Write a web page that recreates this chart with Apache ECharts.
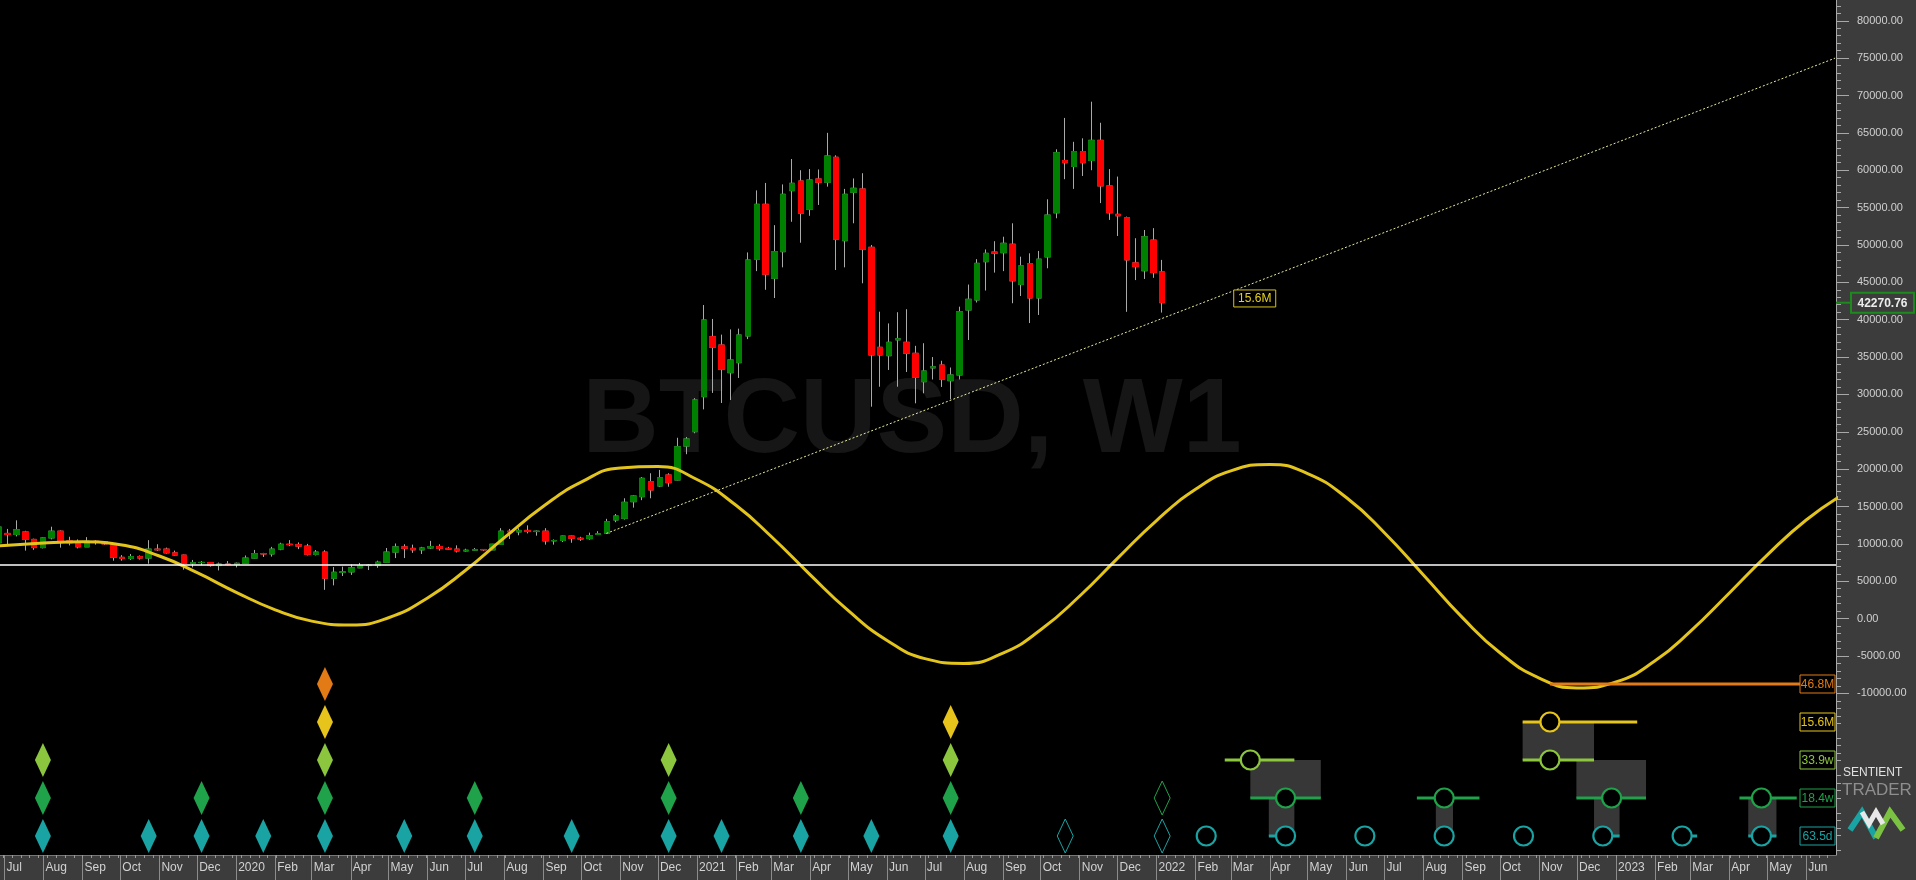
<!DOCTYPE html>
<html><head><meta charset="utf-8">
<script src="https://cdn.jsdelivr.net/npm/echarts/dist/echarts.min.js"></script>
<style>html,body{margin:0;padding:0;background:#3c3c3c;overflow:hidden}#c{width:1916px;height:880px}</style>
</head><body><div id="c"></div>
<script>
// ---------------- DATA ----------------
const firstWeek = '2019-06-23';           // week start of first candle (weekly bars)
const open = [
 10150,11400,11250,11600,10600,9500,10800,11700,10400,10150,
 9600,10350,10300,10000,8200,8050,8300,8100,9300,9300,
 8800,8500,7400,7500,7500,7100,7300,7250,7400,8100,
 8700,8650,9300,9950,9900,9700,8600,8900,5400,6200,
 6250,6800,7100,7100,7550,8900,9600,9400,9200,9450,
 9650,9400,9300,9050,9150,9250,9200,9950,11700,11600,
 11800,11650,11700,10400,10450,11050,10750,10700,11250,11415,
 13195,13422,15644,16313,18320,17744,19217,18547,23097,25011,
 29695,37725,36614,32907,34245,37817,48082,55442,45539,49100,
 57262,58560,54772,58828,58386,61732,50571,57048,57490,49688,
 36306,35182,37300,36975,35503,31702,33550,33937,31836,32599,
 41298,42635,47757,49050,48965,50100,44700,47500,42900,48400,
 54300,61300,60500,62500,61300,64000,57900,54100,53650,47600,
 46550,50650,46400];
const high = [
 13850,12000,13150,11750,10700,10900,12300,11800,10950,10600,
 10900,10500,10350,10050,8500,8650,8450,10500,9950,9500,
 9100,8550,7850,7700,7550,7500,7700,7500,8450,9190,
 8800,9600,10150,10500,10200,10000,9180,9150,6900,6950,
 7250,7450,7300,7750,9450,10050,9950,9900,9600,10400,
 9950,9600,9800,9350,9450,9300,10000,12100,12000,12100,
 12480,11800,12100,10600,11100,11100,10950,11500,11700,13350,
 14000,16100,16500,18950,19450,19900,19450,24200,24300,29500,
 41966,40100,38000,38700,38800,49000,57300,58300,52650,58100,
 61500,60000,60150,60100,65000,62000,57500,58900,59600,50000,
 41070,39500,41000,41400,36500,36850,35000,34500,33600,41740,
 44700,48100,49400,50500,51100,52900,48430,48880,49200,56110,
 62800,67000,63800,64270,69170,66350,60150,59150,53800,50900,
 52000,52250,48000];
const low = [
 10050,9700,11000,9100,9200,9400,10600,9500,9800,9400,
 9600,9900,9850,7750,7750,7850,7900,7350,9050,8700,
 8400,6550,6850,7150,6950,6450,7150,6850,7350,8050,
 8250,8300,9150,9700,9300,8450,8450,3850,4450,5700,
 5850,6750,6500,6800,7550,8100,8100,8800,8650,9300,
 9100,9200,8850,8950,9050,9050,9150,9900,10650,11150,
 11400,11100,9900,9900,10250,10150,10400,10550,11200,11400,
 12900,13250,14850,15850,16100,17600,17650,18500,22000,24800,
 28000,30200,28850,29250,32200,37400,46500,44000,42900,47000,
 53100,50300,53900,55350,57800,46650,47000,52900,44870,28356,
 31030,33270,31030,33000,28811,30150,32000,31000,29347,32000,
 37280,42300,43900,46300,46500,42200,43170,39550,40630,46880,
 53570,58800,57500,59230,60000,55600,53350,51200,41050,45300,
 45450,45600,40950];
const close = [
 12250,11250,11900,10600,9500,10800,11700,10400,10150,9600,
 10350,10300,10000,8200,8050,8300,8100,9300,9200,8800,
 8500,7400,7500,7520,7100,7300,7250,7400,8100,8700,
 8650,9300,9950,9900,9700,8600,8900,5400,6200,6250,
 6800,7100,7150,7550,8900,9600,9400,9200,9450,9650,
 9400,9300,9050,9150,9250,9200,9950,11700,11600,11800,
 11650,11700,10400,10450,11050,10750,10650,11100,11350,12970,
 13730,15563,16407,18775,17210,18855,18186,23004,24034,29253,
 39959,36306,33363,34606,37952,47988,55442,46074,49100,56780,
 58252,54237,58694,58386,61906,50758,56780,57583,49420,35275,
 35275,36975,37450,35503,32291,33134,33700,32023,32599,41070,
 42730,47542,48880,48900,50222,45200,47200,42900,48100,54000,
 62350,61000,62500,61000,64000,57900,54300,53900,48000,47100,
 51100,46300,42270.76];

// cycle composite wave (read at month starts)
const waveDates = ['2019-06-01','2019-07-01','2019-08-01','2019-09-01','2019-10-01','2019-11-01','2019-12-01',
 '2020-01-01','2020-02-01','2020-03-01','2020-04-01','2020-05-01','2020-06-01','2020-07-01','2020-08-01','2020-09-01','2020-10-01','2020-11-01','2020-12-01',
 '2021-01-01','2021-02-01','2021-03-01','2021-04-01','2021-05-01','2021-06-01','2021-07-01','2021-08-01','2021-09-01','2021-10-01','2021-11-01','2021-12-01',
 '2022-01-01','2022-02-01','2022-03-01','2022-04-01','2022-05-01','2022-06-01','2022-07-01','2022-08-01','2022-09-01','2022-10-01','2022-11-01','2022-12-01',
 '2023-01-01','2023-02-01','2023-03-01','2023-04-01','2023-05-01','2023-06-01','2023-07-01'];
const waveValues = [9448,9782,10117,10277,9889,8377,6142,
 3519,1178,-335,-856,120,2757,6437,10826,15028,18253,20167,20341,
 18614,15162,10987,5861,1097,-2917,-5353,-5995,-4617,-1499,3024,8056,
 13128,17303,19765,20635,19417,16165,11495,5835,134,-4603,-7962,-9274,
 -8471,-5647,-1713,3427,8500,13200,16700];

const baseLevel = 7170;                        // white horizontal line
const trendStart = ['2020-10-21', 11400];      // dotted trend line
const trendEnd   = ['2023-06-24', 75000];
const trendLabel = ['2022-03-20', 42840, '15.6M'];

const priceTicks = [-10000,-5000,0,5000,10000,15000,20000,25000,30000,35000,40000,45000,50000,55000,60000,65000,70000,75000,80000];
const monthNames = ['Jan','Feb','Mar','Apr','May','Jun','Jul','Aug','Sep','Oct','Nov','Dec'];

// cycle rows (level 1..5)
const cycleLabels = ['63.5d','18.4w','33.9w','15.6M','46.8M'];
const cycleColors = ['#1aa3a3','#1fa24a','#8cc63f','#e6c41c','#e27a16'];

// diamonds (cycle troughs on candles): week, depth (rows filled), hollow
const diamondWeeks = ['2019-07-28','2019-10-20','2019-12-01','2020-01-19','2020-03-08','2020-05-10','2020-07-05','2020-09-20','2020-12-06','2021-01-17','2021-03-21','2021-05-16','2021-07-18','2021-10-17','2022-01-02'];
const diamondDepth = [3,1,2,1,5,1,2,1,3,1,2,1,4,1,2];
const diamondHollow = [0,0,0,0,0,0,0,0,0,0,0,0,0,1,1];

// projected troughs
const projLevel  = [1,1,1,1,1,1,1,1,2,2,2,2,3,3,4,5];
const projWeek   = ['2022-02-06','2022-04-10','2022-06-12','2022-08-14','2022-10-16','2022-12-18','2023-02-19','2023-04-23','2022-04-10','2022-08-14','2022-12-25','2023-04-23','2022-03-13','2022-11-06','2022-11-06','2022-11-06'];
const projBefore = [0,1.9,0,0.95,0,1.0,0,1.5,4,3.1,4,2.5,2.9,3.1,3.1,0];
const projAfter  = [0,1.0,0,1.0,0,1.9,1.7,1.7,4,4,3.9,4,5,5,9.9,28.4];
const projBox    = [0,1,0,1,0,1,0,1,1,0,1,0,0,1,0,0];
const projCircle = [1,1,1,1,1,1,1,1,1,1,1,1,1,1,1,0];

// ---------------- HELPERS ----------------
const DAY = 86400000, EPOCH = Date.UTC(2020,0,1);
function dayOf(s){const p=s.split('-').map(Number);return (Date.UTC(p[0],p[1]-1,p[2])-EPOCH)/DAY;}
const HALF_WEEK = 3.5;
const week0 = dayOf(firstWeek);
const X_MIN = -187.6, X_MAX = 1270.7;       // visible time window (days from 2020-01-01)
const Y_MIN = -31632, Y_MAX = 82778;

const candleX = i => week0 + 7*i + HALF_WEEK;
const wickData = open.map((o,i)=>[candleX(i), o, close[i], low[i], high[i]]);
const bodyData = open.map((o,i)=>[candleX(i), o, close[i], Math.min(o,close[i]), Math.max(o,close[i])]);
const waveData = waveDates.map((d,i)=>[dayOf(d), waveValues[i]]);

const monthTicks = [];
{let y=2019,m=6;for(;;){const v=(Date.UTC(y,m,1)-EPOCH)/DAY;if(v>X_MAX)break;monthTicks.push(v);m++;if(m>11){m=0;y++;}}}
const weekTicks = [];
for(let d=week0; d<=X_MAX; d+=7) weekTicks.push(d);
const minorTicks = [];
for(let v=-31000; v<=82000; v+=1000) if(v%5000!==0) minorTicks.push(v);

function fmtMonth(v){const d=new Date(EPOCH+Math.round(v)*DAY);const m=d.getUTCMonth();return m===0?String(d.getUTCFullYear()):monthNames[m];}

const diamondData = [];
diamondWeeks.forEach((w,i)=>{for(let l=1;l<=diamondDepth[i];l++) diamondData.push([dayOf(w)+HALF_WEEK, l, diamondHollow[i]]);});
const projLines = [], projBoxes = [], projCircles = [];
projWeek.forEach((w,i)=>{
  const c = dayOf(w)+HALF_WEEK, x0 = c-projBefore[i]*7, x1 = c+projAfter[i]*7, l = projLevel[i];
  if(x1-x0>0.5) projLines.push([x0,x1,l]);
  if(projBox[i]) projBoxes.push([x0,x1,l,l+1]);
  if(projCircle[i]) projCircles.push([c,l]);
});

// ---------------- CHART ----------------
const chart = echarts.init(document.getElementById('c'));
const axisFont = '"Liberation Sans Narrow","Arial Narrow","Liberation Sans",sans-serif';
const option = {
  animation:false,
  backgroundColor:'#3c3c3c',
  grid:{left:0,top:0,right:80,bottom:25,show:true,backgroundColor:'#000',borderWidth:0},
  graphic:[
    {type:'text',x:912,y:423,z:1,silent:true,style:{text:'BTCUSD, W1',font:'bold 106px "Liberation Sans",Arial,sans-serif',fill:'#161616',align:'center',verticalAlign:'middle'}},
    {type:'text',x:1843,y:773,z:10,style:{text:'SENTIENT',font:'12px "Liberation Sans",Arial,sans-serif',fill:'#e2e2e2',align:'left',verticalAlign:'middle'}},
    {type:'text',x:1842,y:790,z:10,style:{text:'TRADER',font:'17px "Liberation Sans",Arial,sans-serif',fill:'#8e8e8e',align:'left',verticalAlign:'middle'}},
    {type:'polyline',z:10,shape:{points:[[1850,830],[1862,812],[1876,838]]},style:{stroke:'#1aa3a3',lineWidth:6,fill:null}},
    {type:'polyline',z:10,shape:{points:[[1876,838],[1890,812],[1903,830]]},style:{stroke:'#7cc242',lineWidth:6,fill:null}},
    {type:'polyline',z:11,shape:{points:[[1862,812],[1869,824],[1876,812],[1883,824]]},style:{stroke:'#e8e8e8',lineWidth:5,fill:null}}
  ],
  xAxis:[
    {type:'value',min:X_MIN,max:X_MAX,position:'bottom',
     axisLine:{show:true,onZero:false,lineStyle:{color:'#777'}},
     axisTick:{show:true,customValues:monthTicks,length:25,lineStyle:{color:'#8c8c8c'}},
     axisLabel:{show:true,customValues:monthTicks,formatter:fmtMonth,color:'#d2d2d2',fontSize:12,fontFamily:axisFont,align:'left',padding:[0,0,0,2],margin:7},
     splitLine:{show:false}},
    {type:'value',min:X_MIN,max:X_MAX,position:'bottom',
     axisLine:{show:false,onZero:false},axisTick:{show:true,customValues:weekTicks,length:3,lineStyle:{color:'#9a9a9a'}},
     axisLabel:{show:false},splitLine:{show:false}}
  ],
  yAxis:[
    {type:'value',position:'right',min:Y_MIN,max:Y_MAX,
     axisLine:{show:true,onZero:false,lineStyle:{color:'#a8a8a8'}},
     axisTick:{show:true,customValues:priceTicks,length:13,lineStyle:{color:'#a8a8a8'}},
     axisLabel:{show:true,customValues:priceTicks,formatter:v=>v.toFixed(2),color:'#d0d0d0',fontSize:11,fontFamily:'"Liberation Sans",Arial,sans-serif',margin:21},
     splitLine:{show:false}},
    {type:'value',position:'right',min:0.5,max:23,show:false,axisLine:{onZero:false}},
    {type:'value',position:'right',min:Y_MIN,max:Y_MAX,
     axisLine:{show:false,onZero:false},axisTick:{show:true,customValues:minorTicks,length:5,lineStyle:{color:'#a8a8a8'}},
     axisLabel:{show:false},splitLine:{show:false}}
  ],
  series:[
    {type:'line',name:'base',data:[],z:1,
     markLine:{silent:true,symbol:'none',label:{show:false},lineStyle:{color:'#ffffff',width:1.5,type:'solid'},data:[{yAxis:baseLevel}]}},
    {type:'candlestick',name:'wicks',data:wickData,encode:{x:0,y:[1,2,3,4]},barWidth:6,z:2,
     itemStyle:{color:'transparent',color0:'transparent',borderColor:'#a9a9a9',borderColor0:'#a9a9a9',borderWidth:1}},
    {type:'candlestick',name:'bodies',data:bodyData,encode:{x:0,y:[1,2,3,4]},barWidth:6,z:3,
     itemStyle:{color:'#008000',color0:'#ff0000',borderColor:'#008000',borderColor0:'#ff0000',borderWidth:1}},
    {type:'line',name:'cycle',data:waveData,smooth:true,showSymbol:false,z:4,
     lineStyle:{color:'#e3c41c',width:3}},
    {type:'line',name:'trend',data:[[dayOf(trendStart[0]),trendStart[1]],[dayOf(trendEnd[0]),trendEnd[1]]],showSymbol:false,z:5,
     lineStyle:{color:'#ecec9a',width:1,type:[2,2]}},
    {type:'custom',name:'trendLabel',data:[[dayOf(trendLabel[0]),trendLabel[1]]],z:6,
     renderItem:(p,api)=>{const c=api.coord([api.value(0),api.value(1)]);return {type:'group',children:[
       {type:'rect',shape:{x:c[0]-21,y:c[1]-8.5,width:42,height:17},style:{fill:'#000',stroke:'#d8c21a',lineWidth:1}},
       {type:'text',style:{text:trendLabel[2],x:c[0],y:c[1]+0.5,fill:'#e8d020',font:'12px "Liberation Sans",Arial,sans-serif',align:'center',verticalAlign:'middle'}}]};}},
    // indicator panel
    {type:'custom',name:'boxes',yAxisIndex:1,data:projBoxes,z:6,
     renderItem:(p,api)=>{const a=api.coord([api.value(0),api.value(3)]),b=api.coord([api.value(1),api.value(2)]);
       return {type:'rect',shape:{x:a[0],y:a[1],width:b[0]-a[0],height:b[1]-a[1]},style:{fill:'#373737'}};}},
    {type:'custom',name:'projLines',yAxisIndex:1,data:projLines,z:7,
     renderItem:(p,api)=>{const l=api.value(2),a=api.coord([api.value(0),l]),b=api.coord([api.value(1),l]);
       return {type:'line',shape:{x1:a[0],y1:a[1],x2:b[0],y2:b[1]},style:{stroke:cycleColors[l-1],lineWidth:3}};}},
    {type:'custom',name:'circles',yAxisIndex:1,data:projCircles,z:8,
     renderItem:(p,api)=>{const l=api.value(1),c=api.coord([api.value(0),l]);
       return {type:'circle',shape:{cx:c[0],cy:c[1],r:9.5},style:{fill:'#000',stroke:cycleColors[l-1],lineWidth:2.2}};}},
    {type:'custom',name:'diamonds',yAxisIndex:1,data:diamondData,z:8,
     renderItem:(p,api)=>{const l=api.value(1),c=api.coord([api.value(0),l]),col=cycleColors[l-1];
       const pts=[[c[0],c[1]-17],[c[0]+8,c[1]],[c[0],c[1]+17],[c[0]-8,c[1]]];
       return {type:'polygon',shape:{points:pts},style:api.value(2)?{fill:null,stroke:col,lineWidth:1}:{fill:col}};}},
    {type:'custom',name:'cycleLabels',yAxisIndex:1,data:cycleLabels.map((t,i)=>[X_MAX,i+1]),z:9,
     renderItem:(p,api)=>{const l=api.value(1),c=api.coord([api.value(0),l]),col=cycleColors[l-1];
       return {type:'group',children:[
         {type:'rect',shape:{x:c[0]-36,y:c[1]-9,width:35,height:18},style:{fill:'#000',stroke:col,lineWidth:1}},
         {type:'text',style:{text:cycleLabels[l-1],x:c[0]-18.5,y:c[1]+0.5,fill:col,font:'12px '+axisFont,align:'center',verticalAlign:'middle'}}]};}},
    // current price tag on the axis
    {type:'custom',name:'lastPrice',data:[[X_MAX,close[close.length-1]]],z:20,clip:false,
     renderItem:(p,api)=>{const c=api.coord([api.value(0),api.value(1)]);return {type:'group',children:[
       {type:'line',shape:{x1:c[0],y1:c[1],x2:c[0]+15,y2:c[1]},style:{stroke:'#1e8a1e',lineWidth:2}},
       {type:'rect',shape:{x:c[0]+15,y:c[1]-10,width:63,height:20},style:{fill:'#3c3c3c',stroke:'#1e8a1e',lineWidth:2}},
       {type:'text',style:{text:api.value(1).toFixed(2),x:c[0]+46.5,y:c[1]+0.5,fill:'#ececec',font:'bold 12px "Liberation Sans",Arial,sans-serif',align:'center',verticalAlign:'middle'}}]};}}
  ]
};
chart.setOption(option);
</script>
</body></html>
